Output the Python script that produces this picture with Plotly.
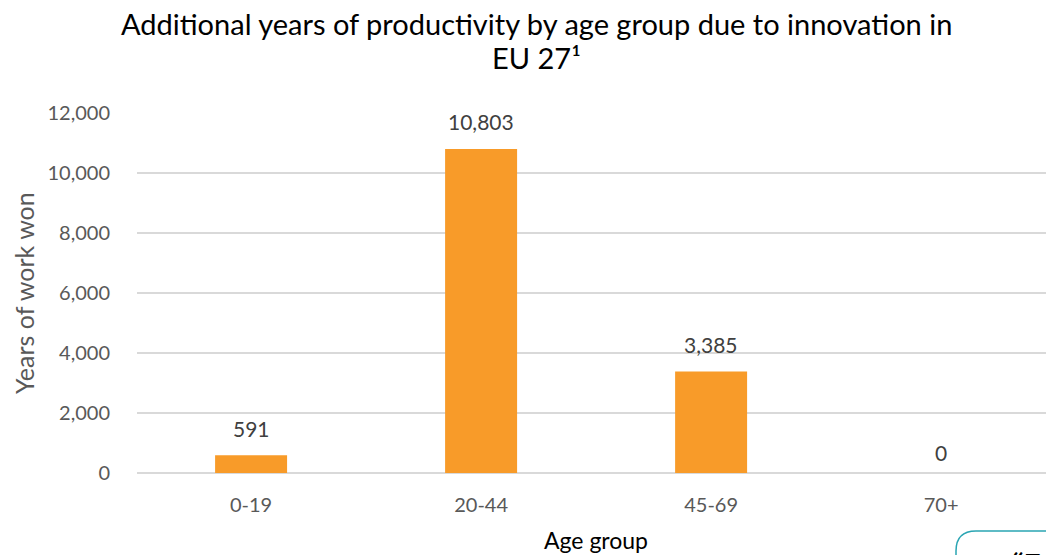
import plotly.graph_objects as go

# Chart data
age_groups = ["0-19", "20-44", "45-69", "70+"]
years_won = [591, 10803, 3385, 0]
y_ticks = [0, 2000, 4000, 6000, 8000, 10000, 12000]

title_line1 = "Additional years of productivity by age group due to innovation in"
title_line2 = "EU 27¹"

FONT = "Lato, 'Open Sans', sans-serif"
BAR_COLOR = "#F89B29"
GRID_COLOR = "#D9D9D9"

W, H = 1046, 555
L, R, T, B = 137, 0, 113, 82


def px(xp):
    """Pixel x on the page -> paper fraction."""
    return (xp - L) / (W - L - R)


def py(yp):
    """Pixel y on the page -> paper fraction."""
    return (H - B - yp) / (H - T - B)


fig = go.Figure()
fig.add_trace(go.Bar(
    x=list(range(len(age_groups))),
    y=years_won,
    width=0.313,
    marker=dict(color=BAR_COLOR, line=dict(width=0)),
    hoverinfo="skip",
))

# value labels above each bar
for i, v in enumerate(years_won):
    fig.add_annotation(
        x=i, y=v, xref="x", yref="y",
        text=f"{v:,}", showarrow=False,
        yanchor="middle", yshift=27 if v > 0 else 21,
        font=dict(family=FONT, size=21, color="#404040"),
    )

# two-line title
for text, yc in ((title_line1, 23), (title_line2, 57)):
    fig.add_annotation(
        x=px(536), y=py(yc), xref="paper", yref="paper",
        xanchor="center", yanchor="middle", showarrow=False,
        text=text, font=dict(family=FONT, size=29, color="#000000"),
        borderpad=0,
    )

# axis titles
fig.add_annotation(
    x=px(24), y=py(293), xref="paper", yref="paper", textangle=-90,
    showarrow=False, text="Years of work won",
    xanchor="center", yanchor="middle",
    font=dict(family=FONT, size=25, color="#595959"),
)
fig.add_annotation(
    x=px(596), y=py(540), xref="paper", yref="paper", showarrow=False,
    text="Age group", xanchor="center", yanchor="middle",
    font=dict(family=FONT, size=23, color="#000000"),
)

# partial rounded frame at the lower right corner
frame_path = (
    f"M {px(956)},{py(565)} L {px(956)},{py(551)} "
    f"Q {px(956)},{py(531)} {px(976)},{py(531)} L {px(1060)},{py(531)}"
)
fig.add_shape(type="path", path=frame_path, xref="paper", yref="paper",
              line=dict(color="#2AA5B3", width=1.5), layer="above")
fig.add_annotation(
    x=px(1010), y=py(544), xref="paper", yref="paper", showarrow=False,
    text="<b>“F</b>", xanchor="left", yanchor="top",
    font=dict(family=FONT, size=30, color="#000000"),
)

fig.update_layout(
    width=W, height=H,
    margin=dict(l=L, r=R, t=T, b=B, autoexpand=False),
    paper_bgcolor="white", plot_bgcolor="white",
    showlegend=False,
    xaxis=dict(
        tickmode="array", tickvals=list(range(len(age_groups))), ticktext=age_groups,
        range=[-0.496, 3.456], showgrid=False, zeroline=False, showline=False,
        ticks="", ticklabelstandoff=18,
        tickfont=dict(family=FONT, size=20, color="#595959"),
    ),
    yaxis=dict(
        range=[0, 12000], tickvals=y_ticks, tickformat=",d",
        showgrid=True, gridcolor=GRID_COLOR, gridwidth=1.5,
        zeroline=True, zerolinecolor=GRID_COLOR, zerolinewidth=1.5,
        showline=False, ticks="", ticklabelstandoff=26,
        tickfont=dict(family=FONT, size=20, color="#595959"),
    ),
)

fig.write_html("out.html")
